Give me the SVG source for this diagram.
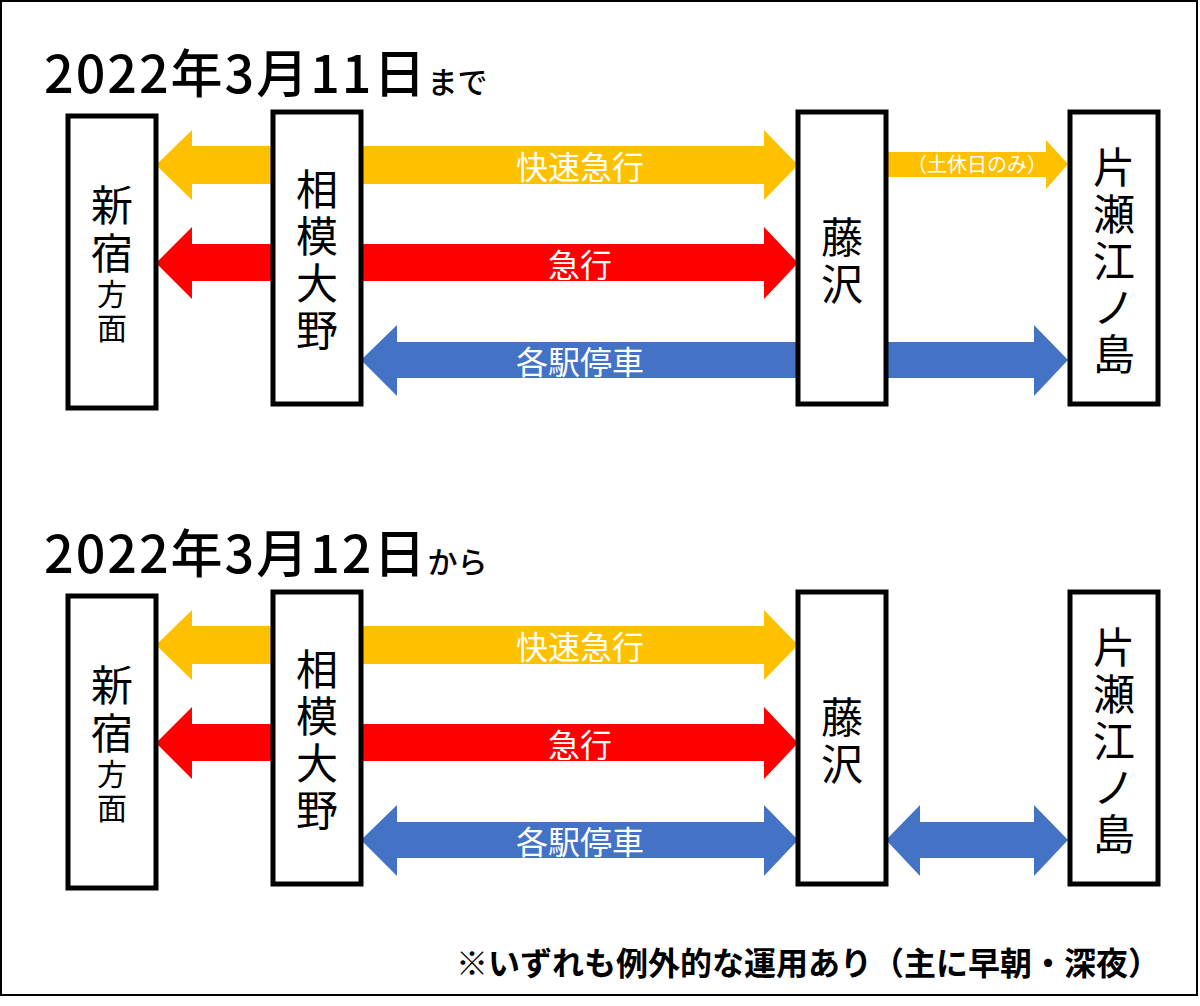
<svg xmlns="http://www.w3.org/2000/svg" width="1200" height="1006" viewBox="0 0 1200 1006">
<style>
.box{fill:#fff;stroke:#000;stroke-width:5}
text{font-family:"Noto Sans CJK JP","Noto Sans",sans-serif}
.n{font-size:42px;text-anchor:middle;dominant-baseline:central}
.s{font-size:30px;text-anchor:middle;dominant-baseline:central}
.l{font-size:32px;fill:#fff;text-anchor:middle;dominant-baseline:central}
.y{fill:#FFC000}.r{fill:#FF0000}.b{fill:#4472C4}
.t{font-size:52px;font-weight:500;letter-spacing:2px}
</style>
<rect x="1" y="1" width="1196" height="994" fill="#fff" stroke="#000" stroke-width="2"/>
<g id="connectors">
 <g id="top">
  <polygon class="y" points="156,165 192,130 192,146 764,146 764,130 798,165 764,200 764,184 192,184 192,200"/>
  <polygon class="r" points="156,263 192,227 192,244 764,244 764,227 798,263 764,299 764,281 192,281 192,299"/>
  <polygon class="b" points="361,360 397,325 397,342 1034,342 1034,325 1068,360 1034,396 1034,378 397,378 397,396"/>
  <polygon class="y" points="886,152 1046,152 1046,140 1068,164 1046,189 1046,177 886,177"/>
 </g>
 <g id="bottom">
  <polygon class="y" points="156,645 192,610 192,626 764,626 764,610 798,645 764,680 764,664 192,664 192,680"/>
  <polygon class="r" points="156,743 192,707 192,724 764,724 764,707 798,743 764,779 764,761 192,761 192,779"/>
  <polygon class="b" points="361,840 397,805 397,822 764,822 764,805 798,840 764,876 764,858 397,858 397,876"/>
  <polygon class="b" points="886,840 920,805 920,822 1034,822 1034,805 1068,840 1034,876 1034,858 920,858 920,876"/>
 </g>
</g>
<text class="l" x="580" y="165">快速急行</text>
<text class="l" x="580" y="263">急行</text>
<text class="l" x="580" y="360">各駅停車</text>
<text x="977" y="163" font-size="20" fill="#fff" text-anchor="middle" dominant-baseline="central">（土休日のみ）</text>
<text class="l" x="580" y="645">快速急行</text>
<text class="l" x="580" y="743">急行</text>
<text class="l" x="580" y="840">各駅停車</text>
<g id="t1"><text class="t" x="44" y="93">2022年3月11日<tspan font-size="30" letter-spacing="0">まで</tspan></text></g>
<g id="t2"><text class="t" x="44" y="573">2022年3月12日<tspan font-size="30" letter-spacing="0">から</tspan></text></g>
<g id="top-nodes">
 <g id="shinjuku1"><rect class="box" x="68" y="116" width="88" height="292"/><text class="n" x="112" y="202">新</text><text class="n" x="112" y="250">宿</text><text class="s" x="112" y="292">方</text><text class="s" x="112" y="326">面</text></g>
 <g id="sagami1"><rect class="box" x="273" y="112" width="88" height="292"/><text class="n" x="317" y="186">相</text><text class="n" x="317" y="233">模</text><text class="n" x="317" y="280">大</text><text class="n" x="317" y="327">野</text></g>
 <g id="fuji1"><rect class="box" x="798" y="112" width="88" height="292"/><text class="n" x="842" y="234">藤</text><text class="n" x="842" y="281">沢</text></g>
 <g id="katase1"><rect class="box" x="1070" y="112" width="88" height="292"/><text class="n" x="1114" y="164">片</text><text class="n" x="1114" y="211">瀬</text><text class="n" x="1114" y="258">江</text><text class="n" x="1114" y="304">ノ</text><text class="n" x="1114" y="351">島</text></g>
</g>
<g id="bottom-nodes">
 <g id="shinjuku2"><rect class="box" x="68" y="596" width="88" height="292"/><text class="n" x="112" y="682">新</text><text class="n" x="112" y="730">宿</text><text class="s" x="112" y="772">方</text><text class="s" x="112" y="806">面</text></g>
 <g id="sagami2"><rect class="box" x="273" y="592" width="88" height="292"/><text class="n" x="317" y="666">相</text><text class="n" x="317" y="713">模</text><text class="n" x="317" y="760">大</text><text class="n" x="317" y="807">野</text></g>
 <g id="fuji2"><rect class="box" x="798" y="592" width="88" height="292"/><text class="n" x="842" y="714">藤</text><text class="n" x="842" y="761">沢</text></g>
 <g id="katase2"><rect class="box" x="1070" y="592" width="88" height="292"/><text class="n" x="1114" y="644">片</text><text class="n" x="1114" y="691">瀬</text><text class="n" x="1114" y="738">江</text><text class="n" x="1114" y="784">ノ</text><text class="n" x="1114" y="831">島</text></g>
</g>
<text x="1160" y="975" font-size="32" font-weight="bold" text-anchor="end">※いずれも例外的な運用あり（主に早朝・深夜）</text>
</svg>
